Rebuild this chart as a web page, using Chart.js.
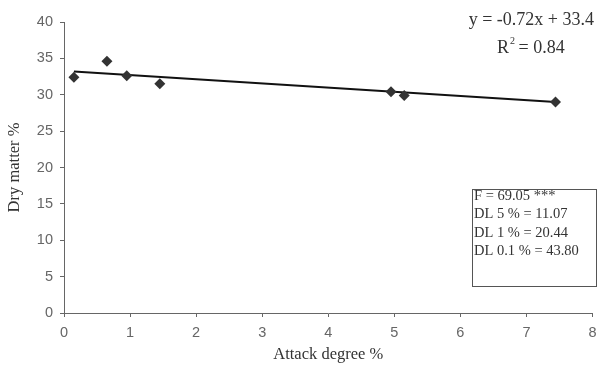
<!DOCTYPE html>
<html>
<head>
<meta charset="utf-8">
<script src="https://cdn.jsdelivr.net/npm/chart.js@4"></script>
<style>
  html, body { margin: 0; padding: 0; background: #fff; }
  #wrap { width: 598px; height: 369px; }
</style>
</head>
<body>
<div id="wrap"><canvas id="chart" width="598" height="369"></canvas></div>
<script>
// values
const attackDegree = [0.15, 0.65, 0.95, 1.45, 4.95, 5.15, 7.44];
const dryMatter = [32.4, 34.6, 32.6, 31.5, 30.4, 29.9, 29.0];
const trendX = [0.15, 7.44];
const trendY = [33.2, 29.0];
const eqLines = ["y = -0.72x + 33.4"];
const statLines = ["F = 69.05 ***", "DL 5 % = 11.07", "DL 1 % = 20.44", "DL 0.1 % = 43.80"];

const axisColor = "#666";
const serif = "'Liberation Serif', 'Times New Roman', serif";
const sans = "'Liberation Sans', Arial, sans-serif";

const notes = {
  id: "notes",
  afterDraw(chart) {
    const ctx = chart.ctx;
    ctx.save();
    ctx.fillStyle = "#333";
    ctx.font = "18px " + serif;
    ctx.textBaseline = "middle";
    ctx.textAlign = "right";
    ctx.fillText(eqLines[0], 594, 20);
    // R² line
    ctx.textAlign = "left";
    ctx.fillText("R", 497, 48);
    let w = ctx.measureText("R").width;
    ctx.font = "10px " + serif;
    ctx.fillText("2", 497 + w + 1, 41);
    ctx.font = "18px " + serif;
    ctx.fillText(" = 0.84", 497 + w + 5, 48);

    // stats box
    ctx.strokeStyle = "#555";
    ctx.lineWidth = 1;
    ctx.strokeRect(472.5, 189.5, 124, 97);
    ctx.font = "14.5px " + serif;
    ctx.fillStyle = "#333";
    statLines.forEach((t, i) => ctx.fillText(t, 474, 196 + i * 18.5));
    ctx.restore();
  }
};

new Chart(document.getElementById("chart"), {
  type: "scatter",
  data: {
    datasets: [
      {
        label: "Dry matter",
        data: attackDegree.map((x, i) => ({ x: x, y: dryMatter[i] })),
        pointStyle: "rectRot",
        pointRadius: 5.5,
        backgroundColor: "#333",
        borderColor: "#333",
        borderWidth: 0
      },
      {
        label: "Trend",
        type: "line",
        data: trendX.map((x, i) => ({ x: x, y: trendY[i] })),
        borderColor: "#111",
        borderWidth: 2,
        pointRadius: 0,
        fill: false
      }
    ]
  },
  options: {
    responsive: false,
    animation: false,
    layout: { padding: { top: 22, right: 3, left: 0, bottom: 0 } },
    plugins: { legend: { display: false }, tooltip: { enabled: false } },
    scales: {
      x: {
        type: "linear",
        min: 0, max: 8,
        ticks: { stepSize: 1, color: axisColor, font: { family: sans, size: 14.5 }, padding: 7 },
        grid: { drawOnChartArea: false, drawTicks: true, tickLength: 4, color: axisColor },
        border: { display: true, color: axisColor, width: 1 },
        title: { display: true, text: "Attack degree %", color: "#333", font: { family: serif, size: 16.5 }, padding: { top: 0, bottom: 4 } },
        afterFit(scale) { scale.height = 56; scale.paddingRight = 0; }
      },
      y: {
        min: 0, max: 40,
        ticks: { stepSize: 5, color: axisColor, font: { family: sans, size: 14.5 }, padding: 7 },
        grid: { drawOnChartArea: false, drawTicks: true, tickLength: 4, color: axisColor },
        border: { display: true, color: axisColor, width: 1 },
        title: { display: true, text: "Dry matter %", color: "#333", font: { family: serif, size: 16.5 }, padding: { top: 5, bottom: 0 } },
        afterFit(scale) { scale.width = 64; scale.paddingTop = 0; }
      }
    }
  },
  plugins: [notes]
});
</script>
</body>
</html>
